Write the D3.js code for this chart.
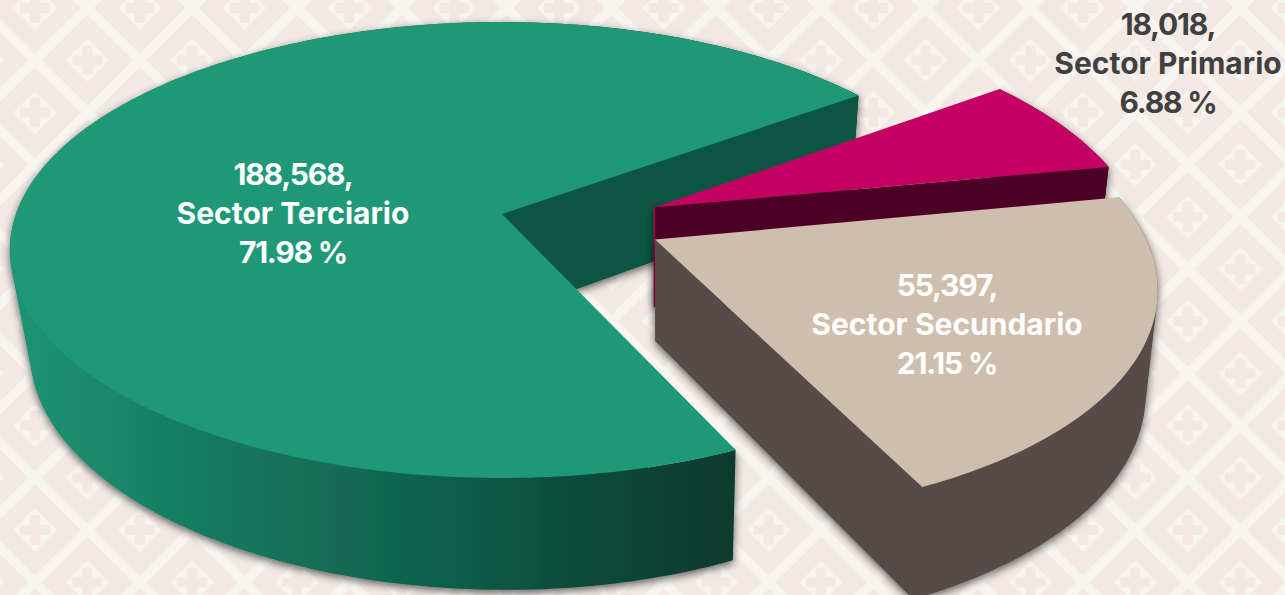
<!DOCTYPE html>
<html><head><meta charset="utf-8">
<script src="https://cdn.jsdelivr.net/npm/d3@7"></script>
<style>html,body{margin:0;padding:0;background:#f2e9e4;overflow:hidden}svg{display:block}</style>
</head><body><svg id="c" width="1285" height="595"></svg>
<script>
const sectors = ["Sector Terciario","Sector Primario","Sector Secundario"];
const workers = [188568,18018,55397];
const topColors = ["#1e9876","#c40062","#cfbdae"];
const cutColors = ["#0d5543","#4d0026","#564c49"];
const wallColors = ["url(#greenWall)","#4d0026","#564c49"];
const textColors = ["#ffffff","#404040","#ffffff"];

const W=1285,H=595;
const svg=d3.select("#c");
const defs=svg.append("defs");

// background tile
const tw=104.8,th=104.4,bgDark="#f2e9e4",bgLight="#f8f4f0";
const pat=defs.append("pattern").attr("id","tile").attr("patternUnits","userSpaceOnUse")
  .attr("width",tw).attr("height",th).attr("patternTransform","translate(35,8)");
pat.append("rect").attr("width",tw).attr("height",th).attr("fill",bgDark);
[[tw/2,0,0,th/2],[tw/2,0,tw,th/2],[0,th/2,tw/2,th],[tw,th/2,tw/2,th]].forEach(l=>{
  const ex=(l[2]-l[0])*.2,ey=(l[3]-l[1])*.2;
  pat.append("line").attr("x1",l[0]-ex).attr("y1",l[1]-ey).attr("x2",l[2]+ex).attr("y2",l[3]+ey)
    .attr("stroke",bgLight).attr("stroke-width",9.5);
});
[[0,0],[tw,0],[0,th],[tw,th],[tw/2,th/2]].forEach(c=>{
  const g=pat.append("g").attr("transform",`translate(${c[0]},${c[1]})`);
  g.append("path").attr("d","M0,-21.7L21.7,0L0,21.7L-21.7,0Z").attr("fill",bgLight);
  g.append("path").attr("d","M-5,-15H5V-5H15V5H5V15H-5V5H-15V-5H-5Z").attr("fill",bgDark);
});
svg.append("rect").attr("width",W).attr("height",H).attr("fill","url(#tile)");

// gradient and shadow
const gr=defs.append("linearGradient").attr("id","greenWall").attr("gradientUnits","userSpaceOnUse")
  .attr("x1",10).attr("x2",735).attr("y1",0).attr("y2",0);
[[0,"#1e9475"],[.26,"#177b60"],[.6,"#0f5f4a"],[.76,"#0c4d3c"],[1,"#083a2e"]].forEach(s=>gr.append("stop").attr("offset",s[0]).attr("stop-color",s[1]));
const fl=defs.append("filter").attr("id","shade").attr("x","-10%").attr("y","-10%").attr("width","120%").attr("height","125%");
fl.append("feDropShadow").attr("dx",0).attr("dy",3).attr("stdDeviation",4).attr("flood-color","#000").attr("flood-opacity",.6);

// perspective projection of the pie plane
const cx=502,cy=214,RxLeft=486,RxRight=478.7,Ry=222.3,k=.158,vanishX=655;
const explode=[[0,0],[.321,-.03],[.314,.113]];
const radius=[1,1.008,1.008];
const persp=v=>1/(1-k*v);
const projTop=(u,v)=>[cx+(u<0?RxLeft:RxRight)*u*persp(v),cy+Ry*v*persp(v)];
const lean=d3.scaleLinear().domain([-645,0,267,500]).range([-20,0,9,12]);
const projBottom=(u,v)=>{const p=projTop(u,v);return [p[0]-lean(p[0]-vanishX),p[1]+100+63*(persp(v)-1)];};

const arcs=d3.pie().sort(null).startAngle(155.3*Math.PI/180).endAngle(515.3*Math.PI/180)(workers);
const line=d3.line();
const total=d3.sum(workers);

[0,1,2].forEach(i=>{
  const a=arcs[i],o=explode[i],r=radius[i];
  const n=Math.ceil((a.endAngle-a.startAngle)*60);
  const rim=d3.range(n+1).map(j=>{
    const t=a.startAngle+(a.endAngle-a.startAngle)*j/n;
    return [r*Math.sin(t)+o[0],-r*Math.cos(t)+o[1]];
  });
  const hub=[o[0],o[1]];
  const ring=[hub,...rim];
  const toTop=p=>projTop(p[0],p[1]),toBot=p=>projBottom(p[0],p[1]);
  const g=svg.append("g").attr("class","slice");
  const side=g.append("g").attr("filter","url(#shade)");
  // bottom face and outer wall: consistently wound quads in one path, so no seams
  const quads=d3.pairs(rim).map(([p,q])=>{
    const poly=[toTop(p),toTop(q),toBot(q),toBot(p)];
    return d3.polygonArea(poly)<0 ? poly.reverse() : poly;
  });
  const face=ring.map(toBot);
  const facePoly=d3.polygonArea(face)<0 ? face.reverse() : face;
  side.append("path").attr("d",[facePoly,...quads].map(q=>line(q)+"Z").join("")).attr("fill",wallColors[i]);
  // visible cut wall
  const last=rim[rim.length-1];
  side.append("path").attr("d",line([toTop(hub),toTop(last),toBot(last),toBot(hub)])+"Z").attr("fill",cutColors[i]);
  if(i===1){
    side.append("line").attr("x1",toTop(hub)[0]-.6).attr("y1",toTop(hub)[1]).attr("x2",toBot(hub)[0]-.6).attr("y2",toBot(hub)[1])
      .attr("stroke","#a8004f").attr("stroke-width",1.4);
  }
  g.append("path").attr("d",line(ring.map(toTop))+"Z").attr("fill",topColors[i]);
});

// labels
const labelPos=[[293,185],[1168,35],[947,296]];
const lineGap=39;
sectors.forEach((s,i)=>{
  const lines=[d3.format(",")(workers[i])+",",s,(workers[i]/total*100).toFixed(2)+" %"];
  svg.append("text").attr("font-family","Inter, sans-serif").attr("font-weight",700).attr("font-size",30)
    .attr("text-anchor","middle").attr("fill",textColors[i])
    .selectAll("tspan").data(lines).join("tspan")
    .attr("x",labelPos[i][0]).attr("y",(d,j)=>labelPos[i][1]+j*lineGap)
    .attr("letter-spacing",(d,j)=>j===1?0:-1.2).text(d=>d);
});
</script></body></html>
